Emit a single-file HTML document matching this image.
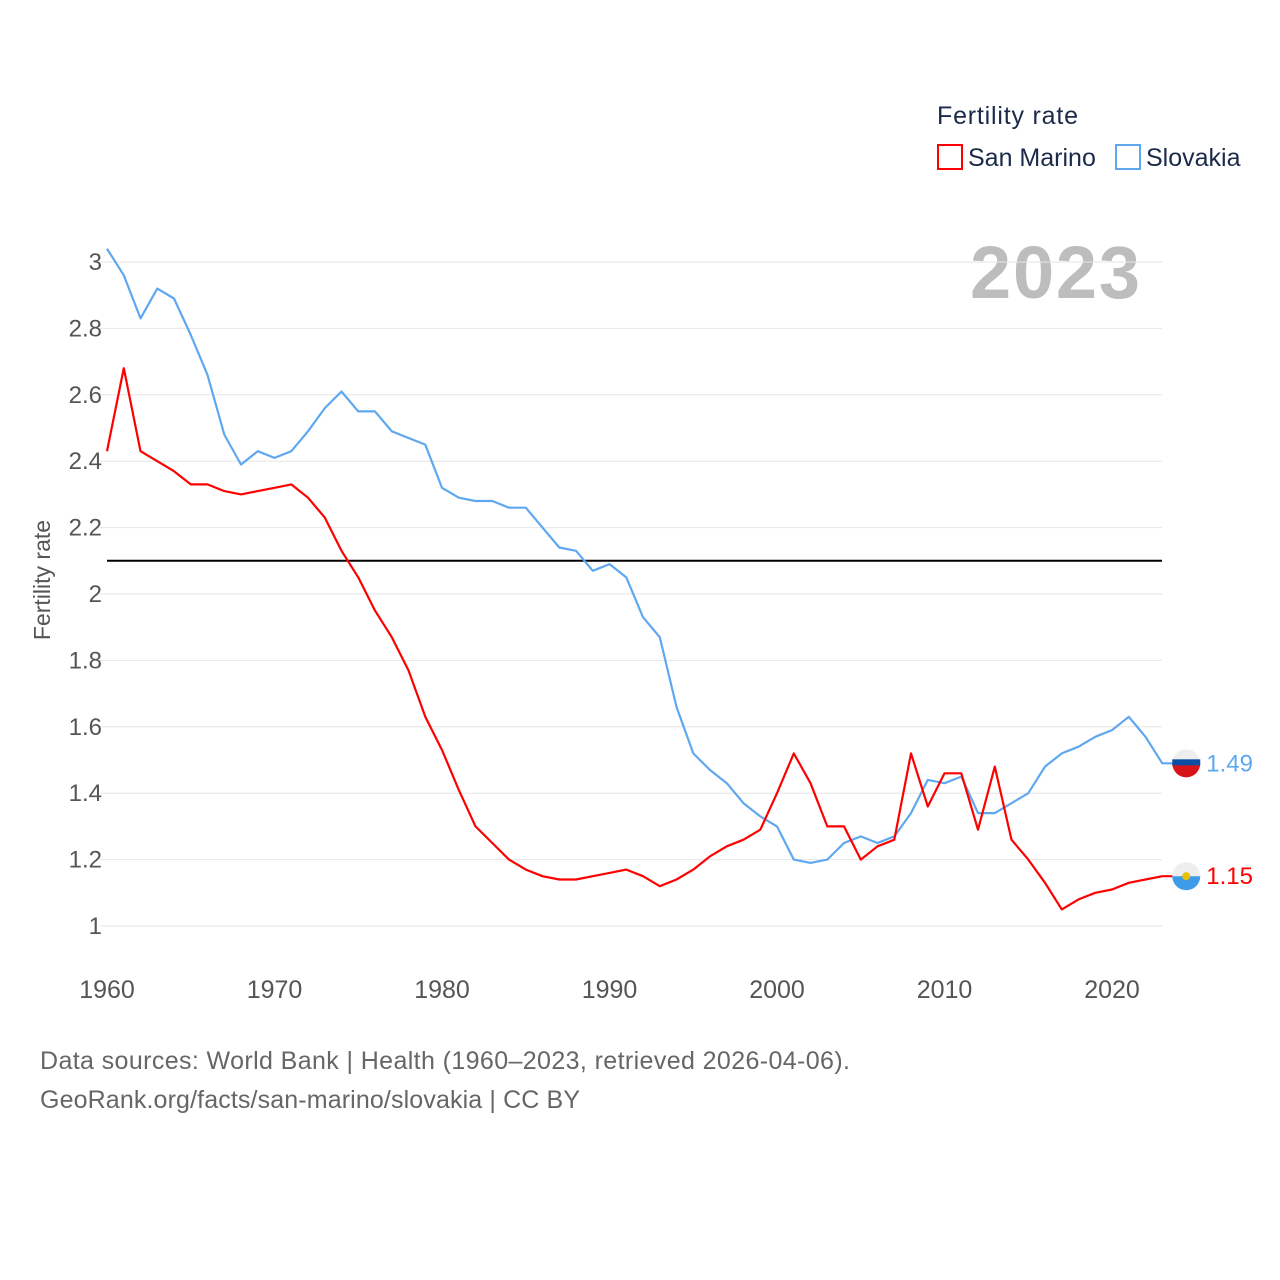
<!DOCTYPE html>
<html><head><meta charset="utf-8"><style>
body{margin:0;background:#fff;}
svg{display:block;font-family:"Liberation Sans",sans-serif;}
</style></head><body>
<svg width="1280" height="1280" id="chart">
<text x="937" y="124" font-size="25" fill="#1a2a4a" textLength="141">Fertility rate</text>
<g><rect x="938" y="145" width="24" height="24" fill="none" stroke="#f00" stroke-width="2"/><text x="968" y="166" font-size="25" fill="#1a2a4a">San Marino</text></g>
<g><rect x="1116" y="145" width="24" height="24" fill="none" stroke="#5fa8f0" stroke-width="2"/><text x="1146" y="166" font-size="25" fill="#1a2a4a">Slovakia</text></g>
<text x="1140" y="298" font-size="74" font-weight="bold" fill="#bdbdbd" text-anchor="end" textLength="170">2023</text>
<text transform="translate(50,580) rotate(-90)" font-size="23" fill="#555" text-anchor="middle">Fertility rate</text>
<g id="grid"></g><g id="series"></g>
<text x="40" y="1069" font-size="25" fill="#666" textLength="810">Data sources: World Bank | Health (1960–2023, retrieved 2026-04-06).</text>
<text x="40" y="1108" font-size="25" fill="#666" textLength="540">GeoRank.org/facts/san-marino/slovakia | CC BY</text>
</svg>
<script>
const years=[];for(let y=1960;y<=2023;y++)years.push(y);
const sanMarino=[2.43,2.68,2.43,2.40,2.37,2.33,2.33,2.31,2.30,2.31,2.32,2.33,2.29,2.23,2.13,2.05,1.95,1.87,1.77,1.63,1.53,1.41,1.30,1.25,1.20,1.17,1.15,1.14,1.14,1.15,1.16,1.17,1.15,1.12,1.14,1.17,1.21,1.24,1.26,1.29,1.40,1.52,1.43,1.30,1.30,1.20,1.24,1.26,1.52,1.36,1.46,1.46,1.29,1.48,1.26,1.20,1.13,1.05,1.08,1.10,1.11,1.13,1.14,1.15];
const slovakia=[3.04,2.96,2.83,2.92,2.89,2.78,2.66,2.48,2.39,2.43,2.41,2.43,2.49,2.56,2.61,2.55,2.55,2.49,2.47,2.45,2.32,2.29,2.28,2.28,2.26,2.26,2.20,2.14,2.13,2.07,2.09,2.05,1.93,1.87,1.66,1.52,1.47,1.43,1.37,1.33,1.30,1.20,1.19,1.20,1.25,1.27,1.25,1.27,1.34,1.44,1.43,1.45,1.34,1.34,1.37,1.40,1.48,1.52,1.54,1.57,1.59,1.63,1.57,1.49];
const yTicks=[1,1.2,1.4,1.6,1.8,2,2.2,2.4,2.6,2.8,3];
const xTicks=[1960,1970,1980,1990,2000,2010,2020];
const replacement=2.1;
const NS="http://www.w3.org/2000/svg";
const X=y=>107+(y-1960)*16.75;
const Y=v=>926-(v-1)*332;
const grid=document.getElementById('grid'),ser=document.getElementById('series');
function mk(tag,at,parent){const e=document.createElementNS(NS,tag);for(const k in at)e.setAttribute(k,at[k]);parent.appendChild(e);return e;}
yTicks.forEach(v=>{
 const l=mk('line',{x1:100,x2:1162,y1:Y(v),y2:Y(v),stroke:'#e6e6e6','stroke-width':1},grid);
 
 
 const t=mk('text',{x:102,y:Y(v)+8,'font-size':24,fill:'#555','text-anchor':'end'},grid);
 t.textContent=String(v);
 
 
});
xTicks.forEach(v=>{
 const t=mk('text',{x:X(v),y:998,'font-size':25,fill:'#555','text-anchor':'middle'},grid);
 t.textContent=String(v);
 
 
});
const rl=mk('line',{x1:107,x2:1162,y1:Y(replacement),y2:Y(replacement),stroke:'#000','stroke-width':2},grid);


function draw(vals,color,name,flag){
 const last=vals[vals.length-1],cx=X(years[years.length-1])+24,cy=Y(last);
 const d=vals.map((v,i)=>(i?'L':'M')+X(years[i]).toFixed(1)+','+Y(v).toFixed(1)).join('')+'L'+(cx-10)+','+cy.toFixed(1);
 const p=mk('path',{d:d,fill:'none',stroke:color,'stroke-width':2.2,'stroke-linejoin':'round'},ser);
 
 
 const g=mk('g',{},ser);
 
 
 mk('circle',{cx:cx,cy:cy,r:14,fill:'#eee'},g);
 if(flag==='sk'){mk('path',{d:`M${cx-14},${cy}h28a14,14 0 0 1 -28,0z`,fill:'#d7141a'},g);mk('rect',{x:cx-14,y:cy-4,width:28,height:6,fill:'#0b4ea2'},g);}
 else{mk('path',{d:`M${cx-14},${cy}h28a14,14 0 0 1 -28,0z`,fill:'#3d9be9'},g);mk('circle',{cx:cx,cy:cy,r:4,fill:'#e6c200'},g);}
 const t=mk('text',{x:cx+20,y:cy+8,'font-size':24,fill:color},ser);
 t.textContent=last.toFixed(2);
 
 
}
draw(slovakia,'#5fa8f0','slovakia','sk');
draw(sanMarino,'#f00','san-marino','sm');
</script>
</body></html>
